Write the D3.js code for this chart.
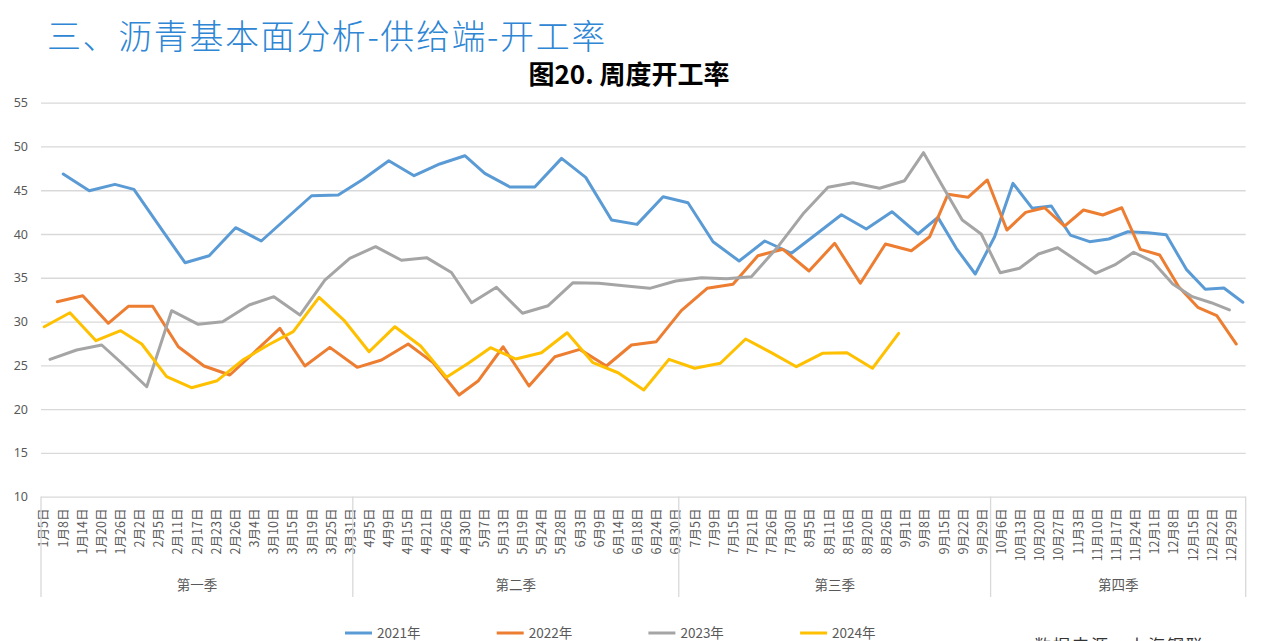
<!DOCTYPE html>
<html><head><meta charset="utf-8">
<script src="https://cdn.jsdelivr.net/npm/d3@7"></script>
<style>body{margin:0;background:#fff;overflow:hidden} svg{display:block}</style>
</head><body><svg id="c" width="1274" height="641"></svg>
<script>
// ---- data ----
const categories = [
 "1月5日","1月8日","1月14日","1月20日","1月26日","2月2日","2月5日","2月11日","2月17日","2月23日","2月26日","3月4日","3月10日","3月15日","3月19日","3月25日","3月31日",
 "4月5日","4月9日","4月15日","4月21日","4月26日","4月30日","5月7日","5月13日","5月19日","5月24日","5月28日","6月3日","6月9日","6月14日","6月18日","6月24日","6月30日",
 "7月5日","7月9日","7月15日","7月21日","7月26日","7月30日","8月5日","8月11日","8月16日","8月20日","8月26日","9月1日","9月8日","9月15日","9月22日","9月29日",
 "10月6日","10月13日","10月20日","10月27日","11月3日","11月10日","11月17日","11月24日","12月1日","12月8日","12月15日","12月22日","12月29日"];
const quarters = ["第一季","第二季","第三季","第四季"];
const quarterEdges = [-0.13, 16.15, 33.17, 49.45, 62.77]; // in category-axis units
const yTicks = [10,15,20,25,30,35,40,45,50,55];
const seriesNames = ["2021年","2022年","2023年","2024年"];

const pos2021 = [1.03,2.39,3.73,4.72,6.05,7.39,8.65,10.03,11.37,12.69,14.0,15.39,16.69,18.03,19.35,20.69,22.0,23.04,24.35,25.65,27.05,28.31,29.66,30.99,32.35,33.65,34.96,36.32,37.66,39.05,40.36,41.66,42.96,44.3,45.66,46.7,47.66,48.65,49.66,50.62,51.63,52.62,53.61,54.62,55.62,56.62,57.66,58.62,59.67,60.66,61.63,62.62];
const val2021 = [46.85,44.94,45.67,45.1,40.9,36.72,37.52,40.72,39.2,41.8,44.37,44.45,46.25,48.37,46.66,48.0,48.94,46.93,45.37,45.37,48.64,46.47,41.6,41.1,44.26,43.57,39.12,36.91,39.2,37.8,40.0,42.2,40.57,42.55,40.0,41.9,38.36,35.43,39.69,45.79,42.93,43.2,39.88,39.12,39.43,40.26,40.15,39.92,35.96,33.68,33.83,32.2];

const pos2022 = [0.72,2.05,3.38,4.43,5.7,7.04,8.38,9.73,11.04,12.34,13.65,14.95,16.38,17.65,19.04,20.34,21.7,22.69,24.0,25.35,26.7,28.0,29.39,30.7,32.0,33.3,34.65,36.0,37.3,38.61,39.97,41.31,42.65,43.96,45.31,46.27,47.22,48.27,49.28,50.3,51.28,52.27,53.31,54.3,55.31,56.3,57.27,58.28,59.27,60.27,61.26,62.28];
const val2022 = [32.26,32.95,29.8,31.74,31.74,27.12,24.92,23.89,26.55,29.22,24.92,27.05,24.77,25.6,27.43,25.3,21.6,23.2,27.12,22.63,25.98,26.82,24.92,27.32,27.7,31.24,33.8,34.25,37.52,38.25,35.77,38.94,34.37,38.86,38.09,39.69,44.53,44.19,46.17,40.45,42.47,43.0,40.91,42.74,42.17,43.0,38.25,37.6,33.98,31.62,30.67,27.43];

const pos2023 = [0.34,1.73,3.04,4.25,5.39,6.69,8.08,9.35,10.74,12.03,13.39,14.69,15.99,17.34,18.69,20.0,21.3,22.35,23.65,25.01,26.35,27.65,29.0,30.3,31.65,33.01,34.35,35.66,36.96,38.35,39.65,40.96,42.26,43.65,44.96,45.95,46.96,47.97,48.96,49.95,50.96,51.95,52.95,53.96,54.93,55.93,56.92,57.92,58.96,59.98,60.97,61.92];
const val2023 = [25.68,26.75,27.32,24.92,22.55,31.24,29.68,29.98,31.89,32.84,30.74,34.74,37.22,38.55,37.0,37.3,35.6,32.15,33.91,30.94,31.81,34.44,34.37,34.1,33.79,34.63,35.01,34.9,35.12,38.55,42.28,45.33,45.86,45.22,46.09,49.29,45.4,41.6,40.0,35.58,36.08,37.71,38.43,36.95,35.51,36.46,37.91,36.84,34.29,32.84,32.15,31.32];

const pos2024 = [0.04,1.38,2.74,4.03,5.13,6.43,7.73,9.07,10.4,11.73,13.04,14.39,15.68,17.0,18.35,19.69,21.04,22.22,23.34,24.66,26.0,27.34,28.69,30.0,31.34,32.66,34.0,35.34,36.66,38.0,39.31,40.67,41.95,43.28,44.65];
const val2024 = [29.41,31.01,27.81,28.95,27.43,23.7,22.44,23.24,25.6,27.32,28.84,32.77,30.17,26.55,29.41,27.2,23.63,25.3,27.01,25.72,26.44,28.72,25.3,24.15,22.18,25.68,24.66,25.23,28.0,26.44,24.84,26.37,26.44,24.66,28.65];

// ---- drawing ----
const colors = ["#5B9BD5","#ED7D31","#A5A5A5","#FFC000"];
const series = [
  {name: seriesNames[0], pos: pos2021, val: val2021},
  {name: seriesNames[1], pos: pos2022, val: val2022},
  {name: seriesNames[2], pos: pos2023, val: val2023},
  {name: seriesNames[3], pos: pos2024, val: val2024}
];
const svg = d3.select("#c");
const L = 41, R = 1245.7, T = 102.7, B = 496.6;
const x = d3.scaleLinear().domain([quarterEdges[0], quarterEdges[quarterEdges.length-1]]).range([L, R]);
const y = d3.scaleLinear().domain([10, 55]).range([B, T]);
const cjk = '"Noto Sans CJK SC","Noto Sans",sans-serif';
const txt = "#595959";

// titles
svg.append("text").attr("x", 47).attr("y", 49)
  .attr("font-family", cjk).attr("font-size", 34).attr("font-weight", 300)
  .attr("letter-spacing", 1.6)
  .attr("fill", "#2E86D4").text("三、沥青基本面分析-供给端-开工率");
svg.append("text").attr("x", 629).attr("y", 84).attr("text-anchor", "middle")
  .attr("font-family", cjk).attr("font-size", 26).attr("font-weight", 700)
  .attr("fill", "#000").text("图20. 周度开工率");

// gridlines
const yAxis = d3.axisLeft(y).tickValues(yTicks).tickSize(-(R - L)).tickPadding(13);
const gy = svg.append("g").attr("transform", `translate(${L},0)`).call(yAxis);
gy.select(".domain").remove();
gy.selectAll(".tick line").attr("stroke", "#D9D9D9").attr("stroke-width", 1.3);
gy.selectAll(".tick text").attr("fill", txt).attr("font-family", '"Noto Sans",sans-serif').attr("font-size", 12.5);

// category axis
const gx = svg.append("g").attr("transform", `translate(0,${B})`)
  .call(d3.axisBottom(x).tickValues(d3.range(categories.length)).tickSize(0).tickFormat(i => categories[i]));
gx.select(".domain").remove();
gx.selectAll(".tick text")
  .attr("transform", "translate(0,12) rotate(-90)")
  .attr("x", 0).attr("y", 0).attr("dy", "0.35em")
  .attr("text-anchor", "end")
  .attr("fill", txt).attr("font-family", cjk).attr("font-size", 12.5);

// quarter separators and labels
svg.append("g").selectAll("line").data(quarterEdges).join("line")
  .attr("x1", d => x(d)).attr("x2", d => x(d)).attr("y1", B).attr("y2", 597)
  .attr("stroke", "#D9D9D9").attr("stroke-width", 1.3);
svg.append("g").selectAll("text").data(quarters).join("text")
  .attr("x", (d, i) => (x(quarterEdges[i]) + x(quarterEdges[i+1])) / 2)
  .attr("y", 590).attr("text-anchor", "middle")
  .attr("font-family", cjk).attr("font-size", 13.5).attr("fill", txt).text(d => d);

// lines
const line = d3.line().x(d => x(d[0])).y(d => y(d[1]));
svg.append("g").selectAll("path").data(series).join("path")
  .attr("d", s => line(s.pos.map((p, i) => [p, s.val[i]])))
  .attr("fill", "none").attr("stroke", (s, i) => colors[i]).attr("stroke-width", 3)
  .attr("stroke-linejoin", "round").attr("stroke-linecap", "round");

// legend
const lg = svg.append("g").selectAll("g").data(series).join("g")
  .attr("transform", (s, i) => `translate(${345 + i * 151.7},633)`);
lg.append("line").attr("x1", 0).attr("x2", 27).attr("y1", 0).attr("y2", 0)
  .attr("stroke", (s, i) => colors[i]).attr("stroke-width", 3);
lg.append("text").attr("x", 32).attr("y", 0).attr("dy", "0.35em")
  .attr("font-family", cjk).attr("font-size", 13.5).attr("fill", txt).text(s => s.name);

// source note (cut by page bottom, as in the reference)
svg.append("text").attr("x", 1034).attr("y", 652)
  .attr("font-family", cjk).attr("font-size", 17).attr("letter-spacing", 2)
  .attr("fill", "#333").text("数据来源：上海钢联，");
</script>
</body></html>
